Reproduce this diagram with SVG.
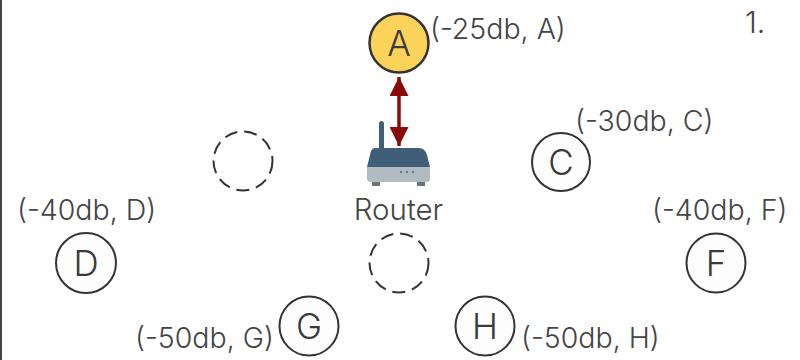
<svg xmlns="http://www.w3.org/2000/svg" width="800" height="360" viewBox="0 0 800 360">
<defs>
<style>
text{font-family:"Inter","Open Sans",sans-serif;font-weight:300;fill:#444;font-size:28.5px}
.n{font-size:35px;text-anchor:middle;fill:#3a3a3a}
.c{fill:#fdfdfd;stroke:#333;stroke-width:2}
.d{fill:#fff;stroke:#333;stroke-width:2;stroke-dasharray:13 7}
</style>
<marker id="ah" viewBox="0 0 19 19" refX="19" refY="9.5" markerWidth="19" markerHeight="19" markerUnits="userSpaceOnUse" orient="auto-start-reverse"><path d="M0 0L19 9.5L0 19Z" fill="#8b0a0a"/></marker>
</defs>
<rect width="800" height="360" fill="#fff"/>
<rect x="0" y="0" width="2" height="360" fill="#444"/>
<g id="connectors"><line x1="399" y1="77" x2="399" y2="146" stroke="#8b0a0a" stroke-width="3.5" marker-start="url(#ah)" marker-end="url(#ah)"/></g>
<g id="node-A"><circle cx="399" cy="43" r="29.5" fill="#fcd35a" stroke="#333" stroke-width="2.5"/><text class="n" x="399" y="56">A</text><text x="430" y="39">(-25db, A)</text></g>
<g id="node-router">
<rect x="379" y="121" width="5" height="30" rx="2.5" fill="#3f5f78"/>
<path d="M375 148H419Q425 148 427 155L430 167H367L370 155Q371 148 375 148Z" fill="#3f5f78"/>
<path d="M367 167H430V179Q430 182 426 182H371Q367 182 367 179Z" fill="#b0bcc2"/>
<rect x="372" y="182" width="8" height="4" fill="#6a7478"/><rect x="417" y="182" width="8" height="4" fill="#6a7478"/>
<g fill="#6a7a85"><circle cx="401" cy="172" r="1.2"/><circle cx="407" cy="172" r="1.2"/><circle cx="413" cy="172" r="1.2"/></g>
<text x="398.5" y="220" text-anchor="middle" style="font-size:29.5px">Router</text></g>
<g id="node-C"><circle class="c" cx="561" cy="162" r="29"/><text class="n" x="561" y="175">C</text><text x="575" y="131">(-30db, C)</text></g>
<g id="node-D"><circle class="c" cx="86" cy="263" r="30"/><text class="n" x="86" y="276">D</text><text x="17" y="220">(-40db, D)</text></g>
<g id="node-F"><circle class="c" cx="716" cy="263" r="29.5"/><text class="n" x="716" y="276">F</text><text x="652" y="220">(-40db, F)</text></g>
<g id="node-G"><circle class="c" cx="309" cy="326" r="29.5"/><text class="n" x="309" y="339">G</text><text x="135" y="348">(-50db, G)</text></g>
<g id="node-H"><circle class="c" cx="485" cy="326" r="29.5"/><text class="n" x="485" y="339">H</text><text x="521" y="348">(-50db, H)</text></g>
<g id="node-E"><circle class="d" cx="243" cy="161" r="29.5"/></g>
<g id="node-B"><circle class="d" cx="399" cy="263" r="29.5"/></g>
<text x="745" y="33" style="font-size:30px">1.</text>
</svg>
